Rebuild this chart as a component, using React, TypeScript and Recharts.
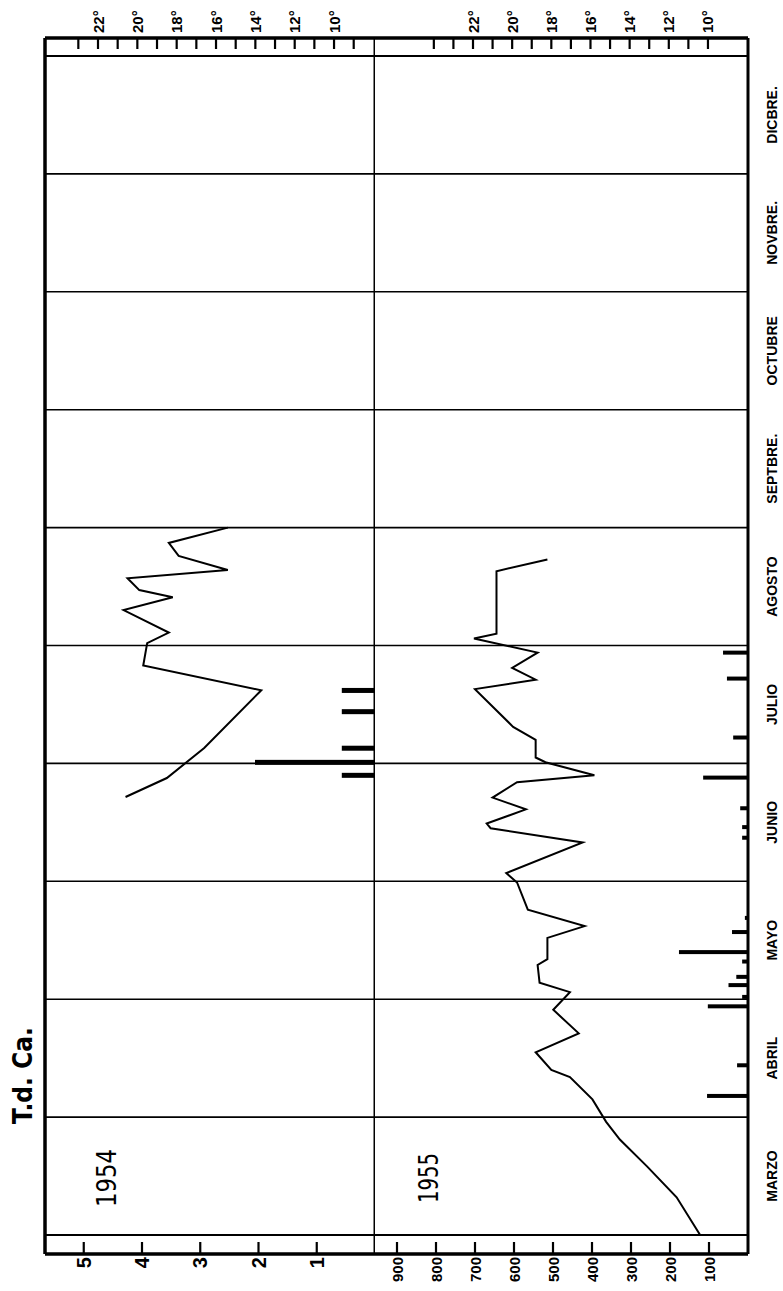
import React from 'react';
import { ComposedChart, Line, Bar, XAxis, YAxis, ReferenceLine } from 'recharts';

// ---------- data ----------
const MONTH_LABELS = ['MARZO', 'ABRIL', 'MAYO', 'JUNIO', 'JULIO', 'AGOSTO', 'SEPTBRE.', 'OCTUBRE', 'NOVBRE.', 'DICBRE.'];
const MONTH_BOUNDS = [0, 1, 2, 3, 4, 5, 6, 7, 8, 9, 10];
const MONTH_MIDS = [0.5, 1.5, 2.5, 3.5, 4.5, 5.5, 6.5, 7.5, 8.5, 9.5];

// time = months elapsed since 1 March
const TEMP54_TIME = [3.715, 3.876, 4.13, 4.62, 4.83, 5.02, 5.11, 5.30, 5.41, 5.47, 5.57, 5.64, 5.76, 5.87, 6.0];
const TEMP54_VAL = [20.6, 18.5, 16.6, 13.7, 19.7, 19.5, 18.4, 20.7, 18.2, 19.9, 20.5, 15.4, 17.9, 18.4, 15.4];
const BAR54_TIME = [3.90, 4.01, 4.13, 4.44, 4.62];
const BAR54_VAL = [0.57, 2.06, 0.57, 0.57, 0.57];

const TEMP55_TIME = [0, 0.32, 0.58, 0.81, 0.96, 1.15, 1.34, 1.40, 1.55, 1.71, 1.91, 2.06, 2.14, 2.29, 2.34, 2.52, 2.62, 2.76, 2.99, 3.07, 3.33, 3.45, 3.49, 3.61, 3.71, 3.84, 3.90, 4.01, 4.05, 4.20, 4.31, 4.63, 4.71, 4.81, 4.94, 5.06, 5.10, 5.63, 5.73];
const TEMP55_VAL = [10.4, 11.6, 13.1, 14.5, 15.2, 15.9, 17.05, 18.0, 18.8, 16.6, 17.9, 17.05, 18.6, 18.7, 18.2, 18.2, 16.3, 19.2, 19.75, 20.3, 16.4, 21.1, 21.3, 19.3, 21.0, 19.75, 15.8, 18.3, 18.8, 18.8, 19.95, 21.9, 18.8, 20.0, 18.7, 21.95, 20.8, 20.8, 18.2];
const BAR55_TIME = [1.18, 1.44, 1.94, 2.02, 2.12, 2.19, 2.32, 2.40, 2.57, 2.69, 3.37, 3.46, 3.62, 3.88, 4.22, 4.72, 4.94];
const BAR55_VAL = [105, 28, 103, 15, 50, 30, 15, 177, 41, 8, 15, 15, 20, 115, 38, 54, 64];

const VAL54_TICKS = [1, 2, 3, 4, 5];
const VAL55_TICKS = [100, 200, 300, 400, 500, 600, 700, 800, 900];
const TEMP54_TICKS = [9, 10, 11, 12, 13, 14, 15, 16, 17, 18, 19, 20, 21, 22, 23];
const TEMP55_TICKS = [10, 11, 12, 13, 14, 15, 16, 17, 18, 19, 20, 21, 22, 23, 24];
const TEMP_LABELLED = [10, 12, 14, 16, 18, 20, 22];

// ---------- layout (drawn landscape, then rotated) ----------
const W = 1291;
const H = 783;
const PLOT_L = 37;
const PLOT_R = 1253;
const M0 = 56;
const M10 = 1235;
const PPM = (M10 - M0) / 10;
const XMIN = -(M0 - PLOT_L) / PPM;
const XMAX = 10 + (PLOT_R - M10) / PPM;

const A_TOP = 45;
const A_H = 330;
const B_H = 373;
const VMAX54 = A_H / 58.25;
const T54_TOP = 22 + (98 - A_TOP) / 19.67;
const T54_BOT = T54_TOP - A_H / 19.67;
const VMAX55 = B_H / 0.39;
const T55_TOP = 22 + (473 - 375) / 19.58;
const T55_BOT = T55_TOP - B_H / 19.58;

const FONT = '"Liberation Sans", Arial, sans-serif';

function merge(tt: number[], tv: number[], bt: number[], bv: number[]) {
  const rows: any[] = [];
  tt.forEach((t, i) => rows.push({ t, temp: tv[i] }));
  bt.forEach((t, i) => rows.push({ t, bar: bv[i] }));
  rows.sort((a, b) => a.t - b.t);
  return rows;
}

const DATA54 = merge(TEMP54_TIME, TEMP54_VAL, BAR54_TIME, BAR54_VAL);
const DATA55 = merge(TEMP55_TIME, TEMP55_VAL, BAR55_TIME, BAR55_VAL);

const makeBarShape = (thick: number) => (props: any) => {
  const { x, y, width, height } = props;
  if (height == null || !isFinite(height) || height <= 0) return <g />;
  const cx = x + (width || 0) / 2;
  return <rect x={cx - thick / 2} y={y} width={thick} height={height} fill="#000" />;
};

const makeLeftTick = (fontSize: number) => (props: any) => {
  const { y, payload } = props;
  return (
    <g>
      <line x1={PLOT_L} x2={PLOT_L + 12} y1={y} y2={y} stroke="#000" strokeWidth={2.2} />
      <text x={PLOT_L - 3} y={y} textAnchor="end" dominantBaseline="central" fontSize={fontSize} fontWeight={700} fontFamily={FONT} fill="#000">
        {payload.value}
      </text>
    </g>
  );
};

const RightTick = (props: any) => {
  const { y, payload } = props;
  const v = payload.value;
  return (
    <g>
      <line x1={PLOT_R} x2={PLOT_R - 11} y1={y} y2={y} stroke="#000" strokeWidth={2.2} />
      {TEMP_LABELLED.includes(v) ? (
        <text x={PLOT_R + 5} y={y} textAnchor="start" dominantBaseline="central" fontSize={15} fontWeight={700} fontFamily={FONT} fill="#000">
          {v}°
        </text>
      ) : null}
    </g>
  );
};

function frame(topVal: number, showTop: boolean) {
  const els: any[] = [];
  els.push(<ReferenceLine key="xl" yAxisId="v" x={XMIN} stroke="#000" strokeWidth={3.5} />);
  els.push(<ReferenceLine key="xr" yAxisId="v" x={XMAX} stroke="#000" strokeWidth={3.5} />);
  MONTH_BOUNDS.forEach((m) =>
    els.push(
      <ReferenceLine key={'m' + m} yAxisId="v" x={m} stroke="#000" strokeWidth={m === 0 || m === 10 ? 2.2 : 1.6} />
    )
  );
  if (showTop) els.push(<ReferenceLine key="yt" yAxisId="v" y={topVal} stroke="#000" strokeWidth={3.5} />);
  els.push(<ReferenceLine key="yb" yAxisId="v" y={0} stroke="#000" strokeWidth={3} />);
  return els;
}

export default function App() {
  return (
    <div style={{ position: 'absolute', left: 0, top: 0, width: 783, height: 1291, overflow: 'hidden', background: '#fff' }}>
      <div
        style={{
          position: 'absolute',
          left: 0,
          top: 0,
          width: W,
          height: H,
          transformOrigin: '0 0',
          transform: `translateY(${W}px) rotate(-90deg)`,
        }}
      >
        {/* 1954 panel */}
        <div style={{ position: 'absolute', left: 0, top: 0 }}>
          <ComposedChart width={W} height={A_TOP + A_H} data={DATA54} margin={{ top: A_TOP, right: W - PLOT_R, bottom: 0, left: PLOT_L }}>
            <XAxis xAxisId={0} type="number" dataKey="t" domain={[XMIN, XMAX]} allowDataOverflow hide />
            <YAxis yAxisId="v" orientation="left" mirror type="number" domain={[0, VMAX54]} allowDataOverflow ticks={VAL54_TICKS} interval={0} axisLine={false} tickLine={false} tick={makeLeftTick(20)} />
            <YAxis yAxisId="temp" orientation="right" mirror type="number" domain={[T54_BOT, T54_TOP]} allowDataOverflow ticks={TEMP54_TICKS} interval={0} axisLine={false} tickLine={false} tick={RightTick} />
            {frame(VMAX54, true)}
            <Bar yAxisId="v" dataKey="bar" fill="#000" barSize={5} shape={makeBarShape(5)} isAnimationActive={false} />
            <Line yAxisId="temp" dataKey="temp" stroke="#000" strokeWidth={2} dot={false} connectNulls isAnimationActive={false} type="linear" />
          </ComposedChart>
        </div>
        {/* 1955 panel */}
        <div style={{ position: 'absolute', left: 0, top: A_TOP + A_H }}>
          <ComposedChart width={W} height={H - A_TOP - A_H} data={DATA55} margin={{ top: 0, right: W - PLOT_R, bottom: 0, left: PLOT_L }}>
            <XAxis
              xAxisId={0}
              type="number"
              dataKey="t"
              domain={[XMIN, XMAX]}
              allowDataOverflow
              ticks={MONTH_MIDS}
              interval={0}
              tickFormatter={(v: number) => MONTH_LABELS[Math.floor(v)]}
              axisLine={false}
              tickLine={false}
              tickSize={0}
              tickMargin={19}
              height={H - A_TOP - A_H - B_H}
              tick={{ fill: '#000', fontSize: 14, fontWeight: 700, fontFamily: FONT }}
            />
            <YAxis yAxisId="v" orientation="left" mirror type="number" domain={[0, VMAX55]} allowDataOverflow ticks={VAL55_TICKS} interval={0} axisLine={false} tickLine={false} tick={makeLeftTick(15)} />
            <YAxis yAxisId="temp" orientation="right" mirror type="number" domain={[T55_BOT, T55_TOP]} allowDataOverflow ticks={TEMP55_TICKS} interval={0} axisLine={false} tickLine={false} tick={RightTick} />
            {frame(VMAX55, false)}
            <Bar yAxisId="v" dataKey="bar" fill="#000" barSize={4} shape={makeBarShape(4)} isAnimationActive={false} />
            <Line yAxisId="temp" dataKey="temp" stroke="#000" strokeWidth={2} dot={false} connectNulls isAnimationActive={false} type="linear" />
          </ComposedChart>
        </div>
        {/* titles */}
        <svg width={W} height={H} style={{ position: 'absolute', left: 0, top: 0, pointerEvents: 'none' }}>
          <text x={167} y={32} fontSize={26} fontFamily='"DejaVu Sans", sans-serif' fontWeight={700} fill="#000" textLength={97} lengthAdjust="spacingAndGlyphs">
            T.d. Ca.
          </text>
          <text x={84} y={116} fontSize={26} fontFamily='"DejaVu Sans", sans-serif' fill="#000" textLength={58} lengthAdjust="spacingAndGlyphs">
            1954
          </text>
          <text x={88} y={438} fontSize={26} fontFamily='"DejaVu Sans", sans-serif' fill="#000" textLength={50} lengthAdjust="spacingAndGlyphs">
            1955
          </text>
        </svg>
      </div>
    </div>
  );
}
